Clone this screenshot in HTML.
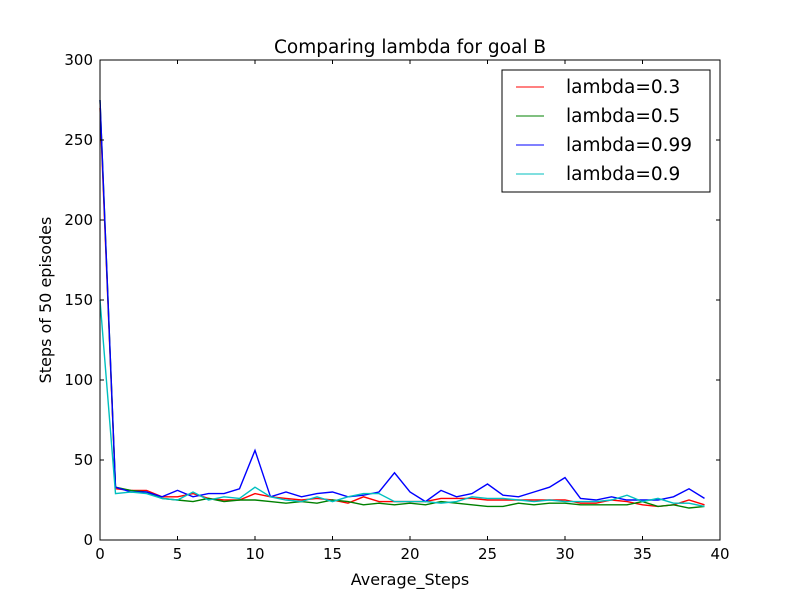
<!DOCTYPE html>
<html><head><meta charset="utf-8"><style>
body{margin:0;background:#fff;}
svg text{font-family:"DejaVu Sans","Liberation Sans",sans-serif;}
</style></head><body>
<svg id="chart" width="800" height="600" xmlns="http://www.w3.org/2000/svg">
<rect width="800" height="600" fill="#fff"/>
<g id="lines"></g>
<rect x="100" y="60" width="620" height="480" fill="none" stroke="#000" stroke-width="1"/>
<g id="ticks"></g>
<text x="410" y="53" text-anchor="middle" font-size="18.5">Comparing lambda for goal B</text>
<text x="410" y="585" text-anchor="middle" font-size="16">Average_Steps</text>
<text transform="translate(51,300) rotate(-90)" text-anchor="middle" font-size="16">Steps of 50 episodes</text>
<g>
<rect x="502" y="70" width="208" height="122" fill="#fff" stroke="#000"/>
<line x1="516" y1="87" x2="544" y2="87" stroke="#ff0000"/>
<text x="566" y="93" font-size="18.5">lambda=0.3</text>
<line x1="516" y1="116" x2="544" y2="116" stroke="#008000"/>
<text x="566" y="122" font-size="18.5">lambda=0.5</text>
<line x1="516" y1="145" x2="544" y2="145" stroke="#0000ff"/>
<text x="566" y="151" font-size="18.5">lambda=0.99</text>
<line x1="516" y1="174" x2="544" y2="174" stroke="#00bfbf"/>
<text x="566" y="180" font-size="18.5">lambda=0.9</text>
</g>
</svg>
<script>
const xTicks=[0,5,10,15,20,25,30,35,40];
const yTicks=[0,50,100,150,200,250,300];
const red=[270,32,31,31,27,27,29,26,25,25,29,27,26,25,26,25,23,27,24,24,24,24,26,26,26,25,25,25,25,25,25,23,23,25,24,22,21,22,25,22];
const green=[275,33,31,30,26,25,24,26,24,25,25,24,23,24,23,25,24,22,23,22,23,22,24,23,22,21,21,23,22,23,23,22,22,22,22,24,21,22,20,21];
const blue=[275,33,30,30,27,31,27,29,29,32,56,27,30,27,29,30,27,28,30,42,30,24,31,27,29,35,28,27,30,33,39,26,25,27,25,25,25,27,32,26];
const cyan=[150,29,30,29,26,25,30,25,27,26,33,27,25,24,27,24,27,29,29,24,24,24,23,24,27,26,26,25,24,25,24,24,24,25,28,24,26,23,23,21];
const NS="http://www.w3.org/2000/svg";
const xs=v=>100+v*620/40, ys=v=>540-v*480/300;
const lines=document.getElementById('lines'), ticks=document.getElementById('ticks');
function mk(t,a,p){const e=document.createElementNS(NS,t);for(const k in a)e.setAttribute(k,a[k]);p.appendChild(e);return e;}
const series=[[red,'#ff0000','series-lambda-0.3'],[green,'#008000','series-lambda-0.5'],[blue,'#0000ff','series-lambda-0.99'],[cyan,'#00bfbf','series-lambda-0.9']];
series.forEach(([d,c,n])=>{
 const el=mk('polyline',{points:d.map((v,i)=>xs(i)+','+ys(v)).join(' '),fill:'none',stroke:c,'stroke-width':1.4},lines);
 
 
});
xTicks.forEach(t=>{
 const x=xs(t);
 mk('line',{x1:x,y1:540,x2:x,y2:536,stroke:'#000'},ticks);
 mk('line',{x1:x,y1:60,x2:x,y2:64,stroke:'#000'},ticks);
 const tx=mk('text',{x:x,y:559,'text-anchor':'middle','font-size':15},ticks);
 tx.textContent=t;
 
 
});
yTicks.forEach(t=>{
 const y=ys(t);
 mk('line',{x1:100,y1:y,x2:104,y2:y,stroke:'#000'},ticks);
 mk('line',{x1:716,y1:y,x2:720,y2:y,stroke:'#000'},ticks);
 const tx=mk('text',{x:93,y:y+5,'text-anchor':'end','font-size':15},ticks);
 tx.textContent=t;
 
 
});
</script>
</body></html>
